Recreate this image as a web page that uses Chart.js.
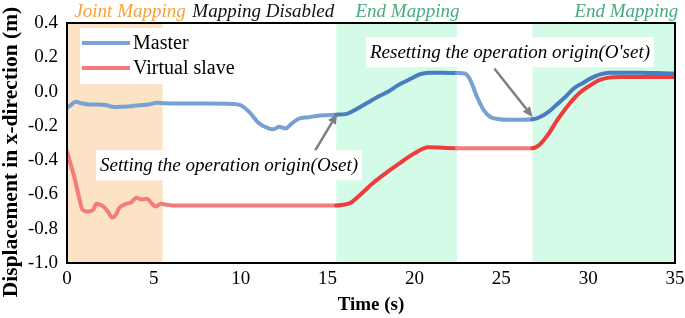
<!DOCTYPE html>
<html>
<head>
<meta charset="utf-8">
<script src="https://cdn.jsdelivr.net/npm/chart.js@4.4.0/dist/chart.umd.min.js"></script>
<style>
  html, body { margin: 0; padding: 0; background: #fff; }
  #wrap { width: 685px; height: 318px; }
</style>
</head>
<body>
<div id="wrap"><canvas id="dispChart" width="685" height="318"></canvas></div>
<script>
// time (s) and displacement (m)
const masterTime = [0, 0.2, 0.5, 0.9, 1.3, 1.8, 2.3, 2.7, 3.2, 3.7, 4.2, 4.7, 5.2, 5.6, 6.5, 8, 9.5, 10.0, 10.5, 11.0, 11.5, 11.9, 12.2, 12.6, 12.9, 13.3, 13.9, 14.6, 15.5, 16.1, 16.7, 17.3, 17.9, 18.5, 19.1, 19.7, 20.3, 20.8, 21.6, 22.45, 22.9, 23.2, 23.6, 24.0, 24.4, 24.8, 25.4, 26.2, 26.8, 27.2, 27.7, 28.2, 28.7, 29.2, 29.7, 30.2, 30.7, 31.2, 32, 33, 34, 35];
const masterDisp = [-0.095, -0.08, -0.06, -0.07, -0.075, -0.075, -0.08, -0.09, -0.088, -0.085, -0.08, -0.075, -0.065, -0.068, -0.07, -0.07, -0.072, -0.08, -0.12, -0.18, -0.21, -0.22, -0.205, -0.215, -0.19, -0.16, -0.15, -0.14, -0.135, -0.13, -0.1, -0.065, -0.03, 0.0, 0.04, 0.07, 0.1, 0.11, 0.11, 0.108, 0.105, 0.07, -0.03, -0.11, -0.15, -0.16, -0.165, -0.165, -0.162, -0.15, -0.12, -0.075, -0.03, 0.02, 0.05, 0.08, 0.1, 0.11, 0.11, 0.11, 0.108, 0.105];

const slaveTime = [0, 0.2, 0.45, 0.7, 0.9, 1.2, 1.5, 1.7, 1.9, 2.1, 2.35, 2.6, 2.8, 3.0, 3.4, 3.7, 4.0, 4.3, 4.6, 4.9, 5.1, 5.4, 5.7, 6.5, 10, 15.5, 15.9, 16.3, 16.9, 17.6, 18.3, 19.2, 20.0, 20.8, 22.45, 24, 26.8, 27.2, 27.7, 28.2, 28.7, 29.1, 29.6, 30.1, 30.6, 31.1, 31.8, 33, 35];
const slaveDisp = [-0.35, -0.42, -0.51, -0.62, -0.69, -0.70, -0.69, -0.655, -0.66, -0.67, -0.70, -0.735, -0.72, -0.68, -0.655, -0.645, -0.62, -0.63, -0.625, -0.655, -0.67, -0.655, -0.66, -0.665, -0.665, -0.665, -0.66, -0.65, -0.6, -0.535, -0.48, -0.415, -0.36, -0.325, -0.33, -0.33, -0.33, -0.31, -0.25, -0.17, -0.1, -0.05, 0.0, 0.035, 0.065, 0.08, 0.085, 0.085, 0.085];

const xTicks = [0, 5, 10, 15, 20, 25, 30, 35];
const yTicks = [-1.0, -0.8, -0.6, -0.4, -0.2, 0.0, 0.2, 0.4];

// phases: [start, end]
const jointBand = [0, 5.5];
const endBands = [[15.5, 22.45], [26.8, 35]];
const phaseLabels = ["Joint Mapping", "Mapping Disabled", "End Mapping", "End Mapping"];
const phaseLabelAt = [3.63, 11.3, 19.6, 32.2];

// annotations: text centre and arrow start/end in data units
const noteTexts = ["Setting the operation origin(Oset)", "Resetting the operation origin(O'set)"];
const noteCentre = [[9.33, -0.43], [25.5, 0.23]];
const noteArrow = [[[14.1, -0.375], [15.55, -0.13]], [[24.6, 0.135], [26.8, -0.148]]];

const yTitle = "Displacement in x-direction (m)";

const SERIF = "'Liberation Serif', 'DejaVu Serif', serif";
const ORANGE_BG = "#FCE3C5";
const GREEN_BG = "#D3FBE8";
const ORANGE_TXT = "#F5A23A";
const GREEN_TXT = "#45AD7E";

function inGreen(x) {
  return endBands.some(b => x >= b[0] && x < b[1]);
}

const toPts = (ts, vs) => ts.map((t, i) => ({ x: t, y: vs[i] }));

const phasePlugin = {
  id: "phases",
  beforeDatasetsDraw(chart) {
    const { ctx, chartArea: a, scales: { x } } = chart;
    ctx.save();
    ctx.fillStyle = ORANGE_BG;
    ctx.fillRect(x.getPixelForValue(jointBand[0]), a.top, x.getPixelForValue(jointBand[1]) - x.getPixelForValue(jointBand[0]), a.bottom - a.top);
    ctx.fillStyle = GREEN_BG;
    endBands.forEach(b => {
      const x0 = x.getPixelForValue(b[0]), x1 = x.getPixelForValue(b[1]);
      ctx.fillRect(x0, a.top, x1 - x0, a.bottom - a.top);
    });
    // phase names above the frame
    ctx.font = "italic 19px " + SERIF;
    ctx.textAlign = "center";
    ctx.textBaseline = "middle";
    const cols = [ORANGE_TXT, "#111", GREEN_TXT, GREEN_TXT];
    phaseLabels.forEach((t, i) => {
      ctx.fillStyle = cols[i];
      ctx.fillText(t, x.getPixelForValue(phaseLabelAt[i]), a.top - 11);
    });
    // y axis title (drawn by hand, sits a bit below the axis centre)
    ctx.translate(11, 152);
    ctx.rotate(-Math.PI / 2);
    ctx.font = "bold 21.5px " + SERIF;
    ctx.fillStyle = "#000";
    ctx.fillText(yTitle, 0, 0);
    ctx.restore();
  },
  afterDatasetsDraw(chart) {
    const { ctx, chartArea: a, scales: { x, y } } = chart;
    ctx.save();
    // arrows
    ctx.strokeStyle = "#7F7F7F";
    ctx.fillStyle = "#7F7F7F";
    ctx.lineWidth = 2.5;
    noteArrow.forEach(([p, q]) => {
      const x0 = x.getPixelForValue(p[0]), y0 = y.getPixelForValue(p[1]);
      const x1 = x.getPixelForValue(q[0]), y1 = y.getPixelForValue(q[1]);
      const ang = Math.atan2(y1 - y0, x1 - x0);
      const hl = 10, hw = 4.5;
      const bx = x1 - hl * Math.cos(ang), by = y1 - hl * Math.sin(ang);
      ctx.beginPath();
      ctx.moveTo(x0, y0);
      ctx.lineTo(bx, by);
      ctx.stroke();
      ctx.beginPath();
      ctx.moveTo(x1, y1);
      ctx.lineTo(bx + hw * Math.sin(ang), by - hw * Math.cos(ang));
      ctx.lineTo(bx - hw * Math.sin(ang), by + hw * Math.cos(ang));
      ctx.closePath();
      ctx.fill();
    });
    // annotation boxes
    ctx.font = "italic 19px " + SERIF;
    ctx.textAlign = "center";
    ctx.textBaseline = "middle";
    noteTexts.forEach((t, i) => {
      const cx = x.getPixelForValue(noteCentre[i][0]);
      const cy = y.getPixelForValue(noteCentre[i][1]);
      const w = ctx.measureText(t).width + 8;
      ctx.fillStyle = "#fff";
      ctx.fillRect(cx - w / 2, cy - 15, w, 30);
      ctx.fillStyle = "#000";
      ctx.fillText(t, cx, cy + 1);
    });
    // legend
    const lx = a.left + 13, ly = a.top + 5;
    ctx.fillStyle = "#fff";
    ctx.fillRect(lx, ly, 162, 56);
    ctx.font = "20px " + SERIF;
    ctx.textAlign = "left";
    chart.data.datasets.forEach((ds, i) => {
      const yy = ly + 15 + i * 25;
      ctx.strokeStyle = ds.legendColor;
      ctx.lineWidth = 4;
      ctx.beginPath();
      ctx.moveTo(lx + 2, yy);
      ctx.lineTo(lx + 50, yy);
      ctx.stroke();
      ctx.fillStyle = "#000";
      ctx.fillText(ds.label, lx + 53, yy + 1);
    });
    // frame
    ctx.strokeStyle = "#000";
    ctx.lineWidth = 2;
    ctx.strokeRect(a.left, a.top, a.right - a.left, a.bottom - a.top);
    ctx.restore();
  }
};

new Chart(document.getElementById("dispChart"), {
  type: "line",
  data: {
    datasets: [
      {
        label: "Master",
        data: toPts(masterTime, masterDisp),
        legendColor: "#7BA3D6",
        borderWidth: 4,
        segment: { borderColor: c => inGreen(c.p0.parsed.x) ? "#4A7CC2" : "#78A0D4" }
      },
      {
        label: "Virtual slave",
        data: toPts(slaveTime, slaveDisp),
        legendColor: "#F47A7A",
        borderWidth: 4,
        segment: { borderColor: c => inGreen(c.p0.parsed.x) ? "#EE3C3C" : "#F47C7C" }
      }
    ]
  },
  options: {
    responsive: false,
    animation: false,
    layout: { padding: { top: 23, right: 10, left: 0, bottom: 0 } },
    elements: {
      point: { radius: 0 },
      line: { cubicInterpolationMode: "monotone", borderCapStyle: "round", borderJoinStyle: "round" }
    },
    plugins: { legend: { display: false }, tooltip: { enabled: false } },
    scales: {
      x: {
        type: "linear",
        min: 0,
        max: 35,
        afterBuildTicks: s => { s.ticks = xTicks.map(v => ({ value: v })); },
        afterFit: s => { s.height = 55; s.paddingLeft = 0; s.paddingRight = 0; },
        grid: { display: false, drawTicks: false },
        border: { color: "#000", width: 2 },
        ticks: { color: "#000", font: { family: SERIF, size: 19 }, padding: 5, maxRotation: 0 },
        title: { display: true, text: "Time (s)", color: "#000", font: { family: SERIF, size: 19, weight: "bold" }, padding: { top: 0, bottom: 2 } }
      },
      y: {
        min: -1.0,
        max: 0.4,
        afterBuildTicks: s => { s.ticks = yTicks.map(v => ({ value: v })); },
        afterFit: s => { s.width = 67; s.paddingTop = 0; s.paddingBottom = 0; },
        grid: { display: false, drawTicks: false },
        border: { color: "#000", width: 2 },
        ticks: { color: "#000", font: { family: SERIF, size: 19 }, padding: 9, callback: v => v.toFixed(1) },
        title: { display: false }
      }
    }
  },
  plugins: [phasePlugin]
});
</script>
</body>
</html>
